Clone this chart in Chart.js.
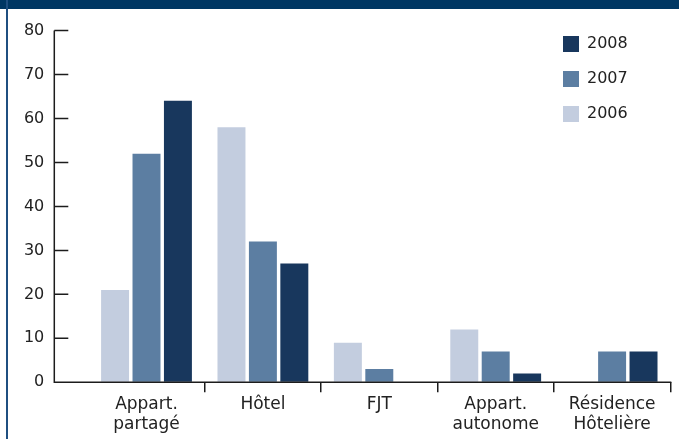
<!DOCTYPE html>
<html>
<head>
<meta charset="utf-8">
<script src="https://cdn.jsdelivr.net/npm/chart.js@4/dist/chart.umd.min.js"></script>
<style>
  html, body { margin: 0; padding: 0; background: #fff; }
  #wrap { position: relative; width: 679px; height: 439px; overflow: hidden; }
  #band { position: absolute; left: 0; top: 0; width: 679px; height: 9px; background: #003763; z-index: 2; }
  #edge { position: absolute; left: 6px; top: 0; width: 2px; height: 439px; background: #1f4f80; z-index: 2; }
</style>
</head>
<body>
<div id="wrap">
  <div id="band"></div>
  <div id="edge"></div>
  <canvas id="chart"></canvas>
</div>
<script>
const categories = [['Appart.', 'partagé'], 'Hôtel', 'FJT', ['Appart.', 'autonome'], ['Résidence', 'Hôtelière']];
const years = ['2006', '2007', '2008'];
const values2006 = [21, 58, 9, 12, 0];
const values2007 = [52, 32, 3, 7, 7];
const values2008 = [64, 27, 0, 2, 7];
const yMax = 80;
const yStep = 10;

const colors = ['#c3cddf', '#5c7ea2', '#18375d'];
const AXIS = '#1c1c1c';
const TEXT = '#222';

Chart.defaults.font.family = "'DejaVu Sans', sans-serif";
Chart.defaults.font.size = 16;
Chart.defaults.color = TEXT;

// y axis sits a bit left of the first category, with ticks pointing inward
const axisPlugin = {
  id: 'axisLines',
  afterLayout(chart) {
    const lg = chart.legend;
    lg.left = 544; lg.right = lg.left + lg.width;
    lg.top = 17; lg.bottom = lg.top + lg.height;
  },
  afterDraw(chart) {
    const { ctx, chartArea, scales: { y } } = chart;
    const ax = chartArea.left - 34;
    const y0 = y.getPixelForValue(0);
    ctx.save();
    ctx.strokeStyle = AXIS;
    ctx.lineWidth = 1.5;
    ctx.beginPath();
    ctx.moveTo(ax, y.getPixelForValue(yMax));
    ctx.lineTo(ax, y0);
    ctx.lineTo(chartArea.right + 1, y0);
    y.ticks.forEach(t => {
      const py = y.getPixelForValue(t.value);
      ctx.moveTo(ax, py);
      ctx.lineTo(ax + 14, py);
    });
    ctx.stroke();
    ctx.restore();
  },
};

const series = [values2006, values2007, values2008];

new Chart(document.getElementById('chart'), {
  type: 'bar',
  data: {
    labels: categories,
    datasets: years.map((yr, i) => ({
      label: yr,
      data: series[i],
      backgroundColor: colors[i],
      borderWidth: 0,
      categoryPercentage: 0.81,
      barPercentage: 0.89,
    })),
  },
  options: {
    responsive: true,
    maintainAspectRatio: false,
    animation: false,
    layout: { padding: { top: 30.5, right: 8.7, left: 0, bottom: 0 } },
    plugins: {
      tooltip: { enabled: false },
      legend: {
        position: 'chartArea',
        align: 'start',
        reverse: true,
        labels: { boxWidth: 16, boxHeight: 16, padding: 19, color: TEXT, font: { size: 16 } },
      },
    },
    scales: {
      x: {
        border: { display: false },
        grid: {
          offset: true,
          drawOnChartArea: false,
          drawTicks: true,
          tickLength: 10,
          lineWidth: 1.5,
          color: c => (c.index === 0 ? 'rgba(0,0,0,0)' : AXIS),
        },
        ticks: { padding: 2, color: TEXT, maxRotation: 0, autoSkip: false, font: { size: 17 } },
        afterFit: s => { s.height = 56.7; },
      },
      y: {
        min: 0,
        max: yMax,
        border: { display: false },
        grid: { drawOnChartArea: false, drawTicks: true, tickLength: 34, color: 'rgba(0,0,0,0)' },
        ticks: { stepSize: yStep, padding: 10, color: TEXT },
        afterFit: s => { s.width = 88.3; },
      },
    },
  },
  plugins: [axisPlugin],
});
</script>
</body>
</html>
